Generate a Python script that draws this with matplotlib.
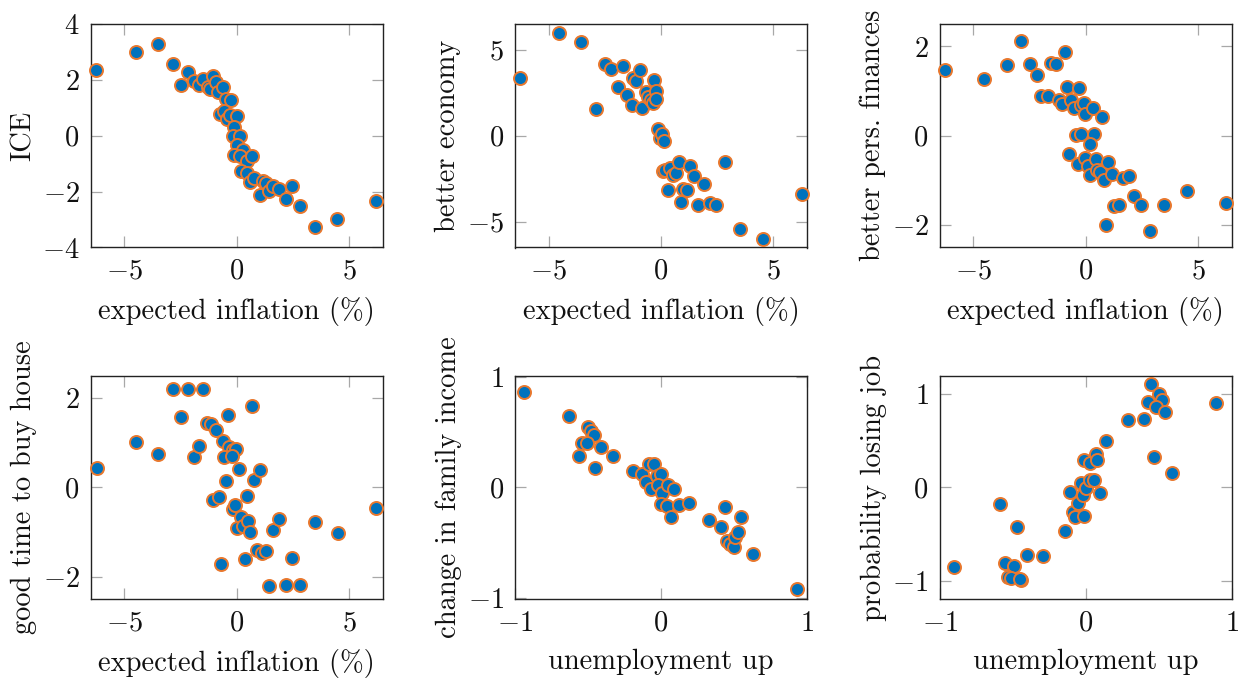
import matplotlib
matplotlib.use("Agg")
import matplotlib.pyplot as plt

plt.rcParams['font.family'] = ['cmr10', 'DejaVu Serif']
plt.rcParams['mathtext.fontset'] = 'cm'
plt.rcParams['axes.formatter.use_mathtext'] = True
plt.rcParams['axes.unicode_minus'] = True

# Panel 1: ICE vs expected inflation
ice_x = [-6.25, -4.49, -3.51, -2.84, -2.49, -2.19, -1.90, -1.69, -1.48, -1.29, -1.19, -1.04,
         -0.93, -0.83, -0.62, -0.49, -0.27, -0.74, -0.56, -0.44, -0.30, 0.00, -0.12, -0.18,
         0.15, 0.00, 0.30, -0.10, 0.15, 0.44, 0.70, 0.19, 0.44, 0.59, 0.77, 1.04, 1.16,
         1.30, 1.45, 1.63, 1.88, 2.19, 2.47, 2.81, 3.50, 4.47, 6.22]
ice_y = [2.36, 3.01, 3.29, 2.56, 1.83, 2.27, 1.96, 1.82, 2.04, 1.73, 1.67, 2.15,
         1.94, 1.58, 1.76, 1.33, 1.29, 0.79, 0.87, 0.60, 0.75, 0.71, 0.33, 0.00,
         -0.02, -0.32, -0.50, -0.70, -0.74, -0.92, -0.74, -1.27, -1.33, -1.67, -1.51, -2.11, -1.63,
         -1.69, -1.99, -1.81, -1.90, -2.26, -1.79, -2.50, -3.26, -2.98, -2.32]

# Panel 2: better economy
econ_x = [-6.27, -4.55, -3.55, -2.88, -2.50, -2.21, -1.69, -1.93, -1.50, -1.31, -1.25, -1.10,
          -0.92, -0.83, -0.65, -0.58, -0.43, -0.33, -0.36, -0.21, -0.24, -0.13, -0.06, 0.06,
          0.12, 0.09, 0.16, 0.39, 0.31, 0.53, 0.68, 0.80, 0.91, 0.98, 1.17, 1.31, 1.47,
          1.65, 1.92, 2.17, 2.47, 2.87, 3.51, 4.55, 6.26]
econ_y = [3.38, 6.00, 5.46, 1.58, 4.17, 3.90, 4.05, 2.84, 2.37, 1.76, 3.34, 3.20,
          3.80, 1.60, 2.57, 2.28, 2.08, 3.24, 1.89, 2.63, 2.12, 0.41, -0.14, 0.12,
          -0.33, -2.07, -1.97, -1.87, -3.13, -2.30, -2.16, -1.53, -3.86, -3.09, -3.17, -1.78, -2.32,
          -4.03, -2.78, -3.90, -4.05, -1.54, -5.41, -5.98, -3.36]

# Panel 3: better personal finances
fin_x = [-6.26, -4.53, -3.52, -2.87, -2.48, -2.18, -1.98, -1.68, -1.53, -1.31, -1.17, -1.04,
         -0.91, -0.82, -0.64, -0.52, -0.30, -0.19, -0.07, -0.04, 0.33, 0.73, -0.42, -0.22,
         0.37, 0.18, -0.74, -0.34, -0.01, 0.10, 0.21, 0.48, 0.52, 0.62, 0.80, 1.00, 1.17,
         1.66, 1.92, 2.15, 1.26, 1.47, 2.48, 3.49, 0.89, 2.85, 4.53, 6.23]
fin_y = [1.47, 1.27, 1.59, 2.13, 1.60, 1.36, 0.90, 0.90, 1.62, 1.60, 0.79, 0.71,
         1.88, 1.10, 0.79, 0.61, 1.06, 0.69, 0.74, 0.49, 0.63, 0.42, 0.02, 0.04,
         0.03, -0.19, -0.40, -0.63, -0.50, -0.67, -0.87, -0.52, -0.76, -0.80, -1.00, -0.58, -0.85,
         -0.94, -0.89, -1.34, -1.58, -1.56, -1.56, -1.56, -2.00, -2.14, -1.23, -1.50]

# Panel 4: good time to buy house
house_x = [-6.22, -4.50, -3.50, -2.83, -2.19, -1.48, -2.47, -1.88, -1.66, -1.33, -1.16, -0.92,
           -0.62, -0.40, -0.33, -0.18, -0.03, -0.56, -0.22, 0.12, 0.70, 0.79, 1.04, -0.47,
           -1.07, -0.81, 0.47, -0.18, -0.07, 0.18, 0.00, 0.30, 0.52, 0.61, 1.63, 1.88,
           3.50, 4.49, 6.19, -0.71, 0.37, 0.92, 1.11, 1.30, 2.44, 1.45, 2.18, 2.81]
house_y = [0.44, 1.02, 0.75, 2.21, 2.21, 2.21, 1.58, 0.68, 0.93, 1.44, 1.41, 1.28,
           1.03, 1.61, 0.90, 0.84, 0.87, 0.68, 0.71, 0.41, 1.83, 0.16, 0.38, 0.15,
           -0.29, -0.22, -0.19, -0.49, -0.39, -0.65, -0.91, -0.87, -0.76, -0.99, -0.95, -0.71,
           -0.78, -1.02, -0.45, -1.72, -1.59, -1.40, -1.46, -1.43, -1.57, -2.20, -2.18, -2.18]

# Panel 5: change in family income vs unemployment up
inc_x = [-0.94, -0.63, -0.50, -0.48, -0.46, -0.54, -0.51, -0.41, -0.56, -0.45, -0.33, -0.19,
         -0.13, -0.08, -0.05, -0.10, -0.07, -0.03, 0.00, -0.02, 0.01, 0.05, 0.09, 0.00,
         0.04, 0.07, 0.12, 0.19, 0.33, 0.44, 0.41, 0.45, 0.47, 0.50, 0.51, 0.53, 0.55,
         0.63, 0.93]
inc_y = [0.86, 0.65, 0.55, 0.51, 0.47, 0.40, 0.40, 0.37, 0.28, 0.18, 0.28, 0.15,
         0.12, 0.21, 0.21, 0.05, -0.01, 0.10, 0.12, 0.02, -0.05, 0.02, -0.01, -0.15,
         -0.17, -0.27, -0.16, -0.14, -0.29, -0.18, -0.36, -0.48, -0.51, -0.54, -0.45, -0.40, -0.27,
         -0.60, -0.92]

# Panel 6: probability losing job vs unemployment up
job_x = [-0.90, -0.59, -0.47, -0.55, -0.49, -0.53, -0.51, -0.44, -0.45, -0.40, -0.29, -0.14,
         -0.11, -0.09, -0.07, -0.05, -0.03, -0.02, -0.01, 0.00, 0.03, 0.06, 0.10, -0.01,
         0.03, 0.07, 0.08, 0.14, 0.29, 0.40, 0.43, 0.45, 0.50, 0.52, 0.48, 0.54, 0.47,
         0.59, 0.89]
job_y = [-0.85, -0.18, -0.43, -0.81, -0.84, -0.96, -0.97, -0.99, -0.98, -0.73, -0.74, -0.47,
         -0.05, -0.26, -0.32, -0.17, 0.05, -0.08, -0.31, -0.01, 0.08, 0.08, -0.06, 0.30,
         0.26, 0.36, 0.30, 0.50, 0.72, 0.73, 0.92, 1.11, 1.00, 0.94, 0.86, 0.81, 0.33,
         0.15, 0.91]

panels = [
    (ice_x, ice_y, "expected inflation (%)", "ICE", (-6.5, 6.5), (-4, 4), [-5, 0, 5], [-4, -2, 0, 2, 4]),
    (econ_x, econ_y, "expected inflation (%)", "better economy", (-6.5, 6.5), (-6.5, 6.5), [-5, 0, 5], [-5, 0, 5]),
    (fin_x, fin_y, "expected inflation (%)", "better pers. finances", (-6.5, 6.5), (-2.5, 2.5), [-5, 0, 5], [-2, 0, 2]),
    (house_x, house_y, "expected inflation (%)", "good time to buy house", (-6.5, 6.5), (-2.5, 2.5), [-5, 0, 5], [-2, 0, 2]),
    (inc_x, inc_y, "unemployment up", "change in family income", (-1, 1), (-1.01, 1.01), [-1, 0, 1], [-1, 0, 1]),
    (job_x, job_y, "unemployment up", "probability losing job", (-1, 1), (-1.2, 1.2), [-1, 0, 1], [-1, 0, 1]),
]

W, H = 1238, 678
fig = plt.figure(figsize=(W / 100, H / 100), dpi=100)
lefts = [90.7, 515.0, 939.7]
tops = [24.0, 375.7]
aw, ah = 292.0, 223.5
FS = 20.5

for i, (x, y, xl, yl, xlim, ylim, xt, yt) in enumerate(panels):
    r, c = divmod(i, 3)
    ax = fig.add_axes([lefts[c] / W, 1 - (tops[r] + ah) / H, aw / W, ah / H])
    ax.scatter(x, y, s=88, facecolor='#0072BD', edgecolor='#E8782E', linewidths=1.4,
               zorder=3, clip_on=False)
    ax.set_xlim(*xlim)
    ax.set_ylim(*ylim)
    ax.set_xticks(xt)
    ax.set_yticks(yt)
    ax.tick_params(direction='in', length=8, width=0.9, color='#a8a8a8',
                   top=True, right=True, labelsize=FS, pad=8, labelcolor='#111111')
    for sp in ax.spines.values():
        sp.set_linewidth(1.0)
        sp.set_color('#222222')
    ax.set_xlabel(xl, fontsize=FS, labelpad=9, color='#111111')
    ax.set_ylabel(yl, fontsize=FS, labelpad=4, color='#111111')

fig.savefig("out.png", dpi=100)
